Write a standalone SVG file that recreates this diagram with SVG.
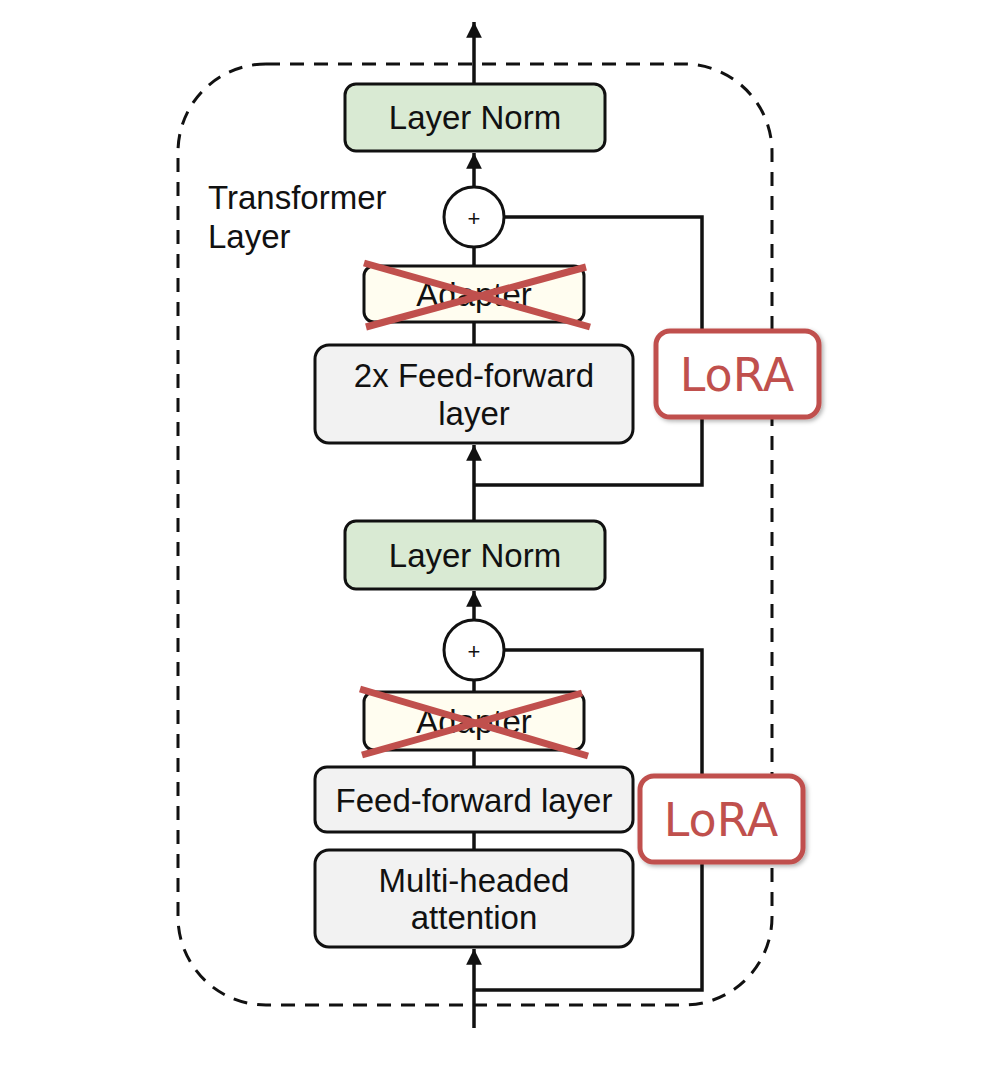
<svg xmlns="http://www.w3.org/2000/svg" width="988" height="1067" viewBox="0 0 988 1067">
<style>
.box{stroke:#111;stroke-width:3}
.ln{fill:#d9ead3}
.gr{fill:#f2f2f2}
.ad{fill:#fffdf0}
.t{font-family:"Liberation Sans",Arial,sans-serif;font-size:33px;fill:#111;text-anchor:middle}
.w{fill:none;stroke:#111;stroke-width:3.5}
.x{stroke:#c0504d;stroke-width:7;stroke-linecap:butt}
.lora{fill:#fff;stroke:#c0504d;stroke-width:5}
.lt{font-family:"DejaVu Sans",sans-serif;font-size:46px;fill:#c0504d;text-anchor:middle}
</style>
<defs>
<marker id="ah" viewBox="0 0 10 10" refX="10" refY="5" markerWidth="4.5" markerHeight="4.5" orient="auto" markerUnits="strokeWidth">
<path d="M0,0 L10,5 L0,10 z" fill="#111"/>
</marker>
<filter id="sh" x="-10%" y="-10%" width="130%" height="130%">
<feDropShadow dx="2" dy="2" stdDeviation="2" flood-color="#000" flood-opacity="0.3"/>
</filter>
</defs>
<rect width="988" height="1067" fill="#fff"/>
<rect id="frame" x="178" y="64" width="594" height="941" rx="88" ry="88" fill="none" stroke="#111" stroke-width="3" stroke-dasharray="14,10"/>
<text class="t" x="208" y="209" style="text-anchor:start">Transformer</text>
<text class="t" x="208" y="248" style="text-anchor:start">Layer</text>
<g id="connectors">
<line class="w" x1="474" y1="84" x2="474" y2="22" marker-end="url(#ah)"/>
<line class="w" x1="474" y1="187" x2="474" y2="153" marker-end="url(#ah)"/>
<line class="w" x1="474" y1="247" x2="474" y2="266"/>
<line class="w" x1="474" y1="322" x2="474" y2="345"/>
<line class="w" x1="474" y1="521" x2="474" y2="445" marker-end="url(#ah)"/>
<polyline class="w" points="504,217 702,217 702,485 474,485"/>
<line class="w" x1="474" y1="620" x2="474" y2="591" marker-end="url(#ah)"/>
<line class="w" x1="474" y1="680" x2="474" y2="692"/>
<line class="w" x1="474" y1="750" x2="474" y2="767"/>
<line class="w" x1="474" y1="832" x2="474" y2="850"/>
<line class="w" x1="474" y1="1028" x2="474" y2="949" marker-end="url(#ah)"/>
<polyline class="w" points="504,650 702,650 702,990 474,990"/>
</g>
<g id="ln_top"><rect class="box ln" x="345" y="84" width="260" height="67" rx="11"/><text class="t" x="475" y="129">Layer Norm</text></g>
<g id="add_top"><circle cx="474" cy="217" r="30" fill="#fff" stroke="#111" stroke-width="3"/><text class="t" x="474" y="226" style="font-size:22px">+</text></g>
<g id="adapter_top"><rect class="box ad" x="364" y="266" width="220" height="56" rx="10"/><text class="t" x="474" y="306">Adapter</text>
<line class="x" x1="364" y1="263" x2="590" y2="327"/><line class="x" x1="366" y1="327" x2="586" y2="267"/></g>
<g id="ff2x"><rect class="box gr" x="315" y="345" width="318" height="98" rx="14"/><text class="t" x="474" y="387">2x Feed-forward</text><text class="t" x="474" y="425">layer</text></g>
<g id="lora_top"><rect class="lora" x="656" y="331" width="163" height="86" rx="14" filter="url(#sh)"/><text class="lt" x="737" y="391">LoRA</text></g>
<g id="ln_mid"><rect class="box ln" x="345" y="521" width="260" height="68" rx="11"/><text class="t" x="475" y="567">Layer Norm</text></g>
<g id="add_mid"><circle cx="474" cy="650" r="30" fill="#fff" stroke="#111" stroke-width="3"/><text class="t" x="474" y="659" style="font-size:22px">+</text></g>
<g id="adapter_mid"><rect class="box ad" x="364" y="692" width="220" height="58" rx="10"/><text class="t" x="474" y="733">Adapter</text>
<line class="x" x1="360" y1="689" x2="588" y2="756"/><line class="x" x1="362" y1="755" x2="582" y2="693"/></g>
<g id="ff"><rect class="box gr" x="315" y="767" width="318" height="65" rx="12"/><text class="t" x="474" y="812">Feed-forward layer</text></g>
<g id="mha"><rect class="box gr" x="315" y="850" width="318" height="97" rx="14"/><text class="t" x="474" y="892">Multi-headed</text><text class="t" x="474" y="929">attention</text></g>
<g id="lora_bot"><rect class="lora" x="640" y="776" width="163" height="86" rx="14" filter="url(#sh)"/><text class="lt" x="721" y="836">LoRA</text></g>
</svg>
